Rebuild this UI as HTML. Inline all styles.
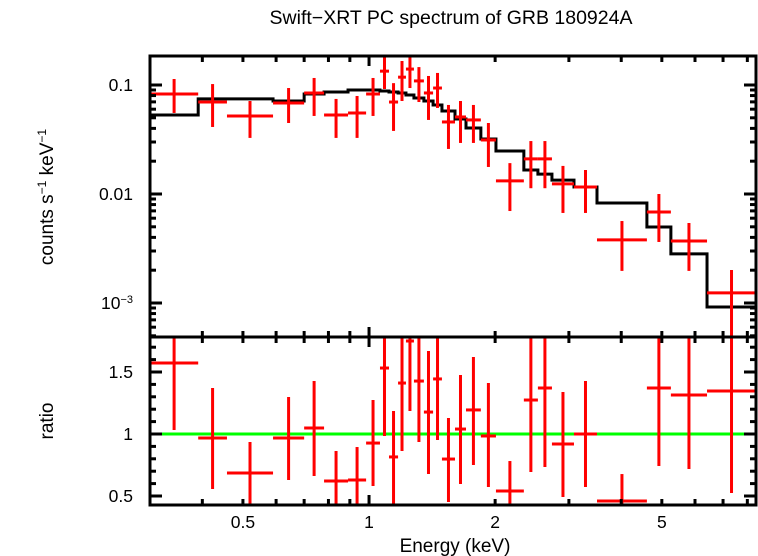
<!DOCTYPE html>
<html><head><meta charset="utf-8"><style>
html,body{margin:0;padding:0;background:#fff;}
svg{display:block;font-family:"Liberation Sans",sans-serif;}
</style></head><body>
<svg id="chart" width="758" height="556" viewBox="0 0 758 556" xmlns="http://www.w3.org/2000/svg">
<text x="451" y="24" font-size="19.5" text-anchor="middle">Swift−XRT PC spectrum of GRB 180924A</text>
<text transform="translate(53,197) rotate(-90)" font-size="19" text-anchor="middle">counts s<tspan baseline-shift="super" font-size="12">−1</tspan> keV<tspan baseline-shift="super" font-size="12">−1</tspan></text>
<text transform="translate(53,421) rotate(-90)" font-size="19" text-anchor="middle">ratio</text>
<text x="455" y="552" font-size="19" text-anchor="middle">Energy (keV)</text>
<g id="g-top"></g>
<g id="g-bot"></g>
</svg>
<script>
const binEdges=[0.300,0.391,0.458,0.590,0.700,0.781,0.891,0.984,1.062,1.116,1.173,1.225,1.280,1.352,1.422,1.493,1.604,1.704,1.849,2.009,2.342,2.530,2.733,3.085,3.501,4.606,5.255,6.41,8.39];
const counts=[0.0827,0.0698,0.0520,0.0684,0.0845,0.0531,0.0554,0.0827,0.134,0.0698,0.118,0.140,0.109,0.0845,0.0938,0.0458,0.0509,0.0478,0.0313,0.0132,0.0210,0.0210,0.0124,0.0116,0.00379,0.00684,0.00371,0.00124];
const countsHi=[0.1135,0.102,0.0713,0.0938,0.116,0.0745,0.0793,0.116,0.19,0.104,0.166,0.19,0.146,0.121,0.129,0.0656,0.0713,0.0656,0.0448,0.0192,0.0306,0.0306,0.0181,0.0166,0.00565,0.0100,0.00542,0.00201];
const countsLo=[0.0554,0.0412,0.0327,0.0448,0.0520,0.0327,0.0327,0.0520,0.0919,0.0379,0.0713,0.0938,0.0698,0.0478,0.0616,0.0259,0.0294,0.0294,0.0177,0.00698,0.0113,0.0113,0.0067,0.0067,0.00197,0.00363,0.00197,0.0003];
const model=[0.0531,0.0745,0.0745,0.0713,0.0827,0.0863,0.0899,0.0899,0.0881,0.0863,0.0845,0.0809,0.0760,0.0713,0.0656,0.0577,0.0488,0.0403,0.0320,0.0248,0.0166,0.0152,0.0134,0.0116,0.00826,0.00498,0.00282,0.00092];
const ratio=[1.573,0.968,0.685,0.968,1.048,0.621,0.629,0.927,1.532,0.815,1.411,1.75,1.427,1.177,1.444,0.798,1.040,1.194,0.984,0.540,1.274,1.371,0.919,1.0,0.46,1.371,1.315,1.347];
const ratioHi=[1.9,1.371,0.935,1.298,1.427,0.863,0.895,1.274,1.9,1.185,1.9,1.9,1.9,1.669,1.9,1.129,1.476,1.621,1.411,0.782,1.9,1.9,1.339,1.427,0.677,1.9,1.9,1.9];
const ratioLo=[1.032,0.556,0.40,0.629,0.661,0.40,0.40,0.581,0.984,0.40,0.863,1.185,0.935,0.677,0.952,0.452,0.597,0.750,0.573,0.40,0.694,0.734,0.492,0.573,0.40,0.742,0.718,0.524];
const xTickLabels=["0.5","1","2","5"];
const xTickValues=[0.5,1,2,5];

const NS="http://www.w3.org/2000/svg";
const L=150,R=756,T1=56,B1=337,T2=337,B2=505;
const xMin=0.3,xMax=8.39;
const X=e=>L+(Math.log10(e)-Math.log10(xMin))/(Math.log10(xMax)-Math.log10(xMin))*(R-L);
const Y1=v=>85+(-1-Math.log10(v))*109;
const Y2=r=>434-(r-1)*124;
function mk(tag,attrs,parent){const el=document.createElementNS(NS,tag);for(const k in attrs)el.setAttribute(k,attrs[k]);parent.appendChild(el);return el;}
const gt=document.getElementById('g-top'),gb=document.getElementById('g-bot');
const cpT=mk('clipPath',{id:'ct'},gt);mk('rect',{x:L,y:T1,width:R-L,height:B1-T1},cpT);
const cpB=mk('clipPath',{id:'cb'},gb);mk('rect',{x:L,y:T2,width:R-L,height:B2-T2},cpB);
const dT=mk('g',{'clip-path':'url(#ct)'},gt);
const dB=mk('g',{'clip-path':'url(#cb)'},gb);

let d='';
for(let i=0;i<model.length;i++){const x0=X(binEdges[i]),x1=X(binEdges[i+1]),y=Y1(model[i]);d+=(i===0?'M':'L')+x0+','+y+'L'+x1+','+y;}
const ml=mk('path',{d:d,fill:'none',stroke:'#000','stroke-width':3},dT);



const gl=mk('line',{x1:L,x2:R,y1:Y2(1),y2:Y2(1),stroke:'#00ff00','stroke-width':3},dB);



for(let i=0;i<counts.length;i++){
  const x0=X(binEdges[i]),x1=X(binEdges[i+1]),xc=X(Math.sqrt(binEdges[i]*binEdges[i+1]));
  const g1=mk('g',{stroke:'#ff0000','stroke-width':3},dT);
  
  
  mk('line',{x1:x0,x2:x1,y1:Y1(counts[i]),y2:Y1(counts[i])},g1);
  mk('line',{x1:xc,x2:xc,y1:Y1(countsHi[i]),y2:Y1(countsLo[i])},g1);
  const g2=mk('g',{stroke:'#ff0000','stroke-width':3},dB);
  
  
  mk('line',{x1:x0,x2:x1,y1:Y2(ratio[i]),y2:Y2(ratio[i])},g2);
  mk('line',{x1:xc,x2:xc,y1:Y2(ratioHi[i]),y2:Y2(ratioLo[i])},g2);
}

const ax=mk('g',{stroke:'#000','stroke-width':3,fill:'none'},document.getElementById('chart'));


mk('rect',{x:L,y:T1,width:R-L,height:B2-T1},ax);
mk('line',{x1:L,x2:R,y1:B1,y2:B1},ax);
const xt=[0.4,0.5,0.6,0.7,0.8,0.9,1,2,3,4,5,6,7,8];
xt.forEach(v=>{const x=X(v),len=(v===1)?10:6;
  [[T1,1],[B1,-1],[B1,1],[B2,-1]].forEach(([y,s])=>{mk('line',{x1:x,x2:x,y1:y,y2:y+s*len},ax);});
});
for(let dec=-4;dec<=-1;dec++){for(let m=1;m<=9;m++){const v=m*Math.pow(10,dec);const y=Y1(v);if(y<T1||y>B1)continue;const len=m===1?12:6;
  mk('line',{x1:L,x2:L+len,y1:y,y2:y},ax);mk('line',{x1:R,x2:R-len,y1:y,y2:y},ax);}}
for(let k=5;k<=17;k++){const v=k/10,y=Y2(v);if(y<T2||y>B2)continue;const len=(k%5===0)?12:6;
  mk('line',{x1:L,x2:L+len,y1:y,y2:y},ax);mk('line',{x1:R,x2:R-len,y1:y,y2:y},ax);}

const svg=document.getElementById('chart');
xTickValues.forEach((v,i)=>{const t=mk('text',{x:X(v),y:528,'font-size':17.5,'text-anchor':'middle'},svg);t.textContent=xTickLabels[i];
  
  });
[["0.1",0.1],["0.01",0.01]].forEach(([s,v])=>{const t=mk('text',{x:133,y:Y1(v)+6,'font-size':17.5,'text-anchor':'end'},svg);t.textContent=s;
  
  });
const t3=mk('text',{x:133,y:Y1(0.001)+6,'font-size':17.5,'text-anchor':'end'},svg);


t3.innerHTML='10<tspan baseline-shift="super" font-size="11">−3</tspan>';
[["1.5",1.5],["1",1],["0.5",0.5]].forEach(([s,v])=>{const t=mk('text',{x:133,y:Y2(v)+6,'font-size':17.5,'text-anchor':'end'},svg);t.textContent=s;
  
  });
</script>
</body></html>
